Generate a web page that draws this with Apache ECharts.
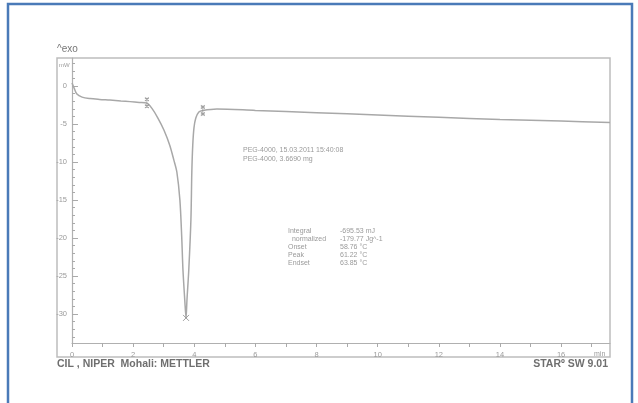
<!DOCTYPE html>
<html><head><meta charset="utf-8">
<script src="https://cdn.jsdelivr.net/npm/echarts@6/dist/echarts.min.js"></script>
<style>html,body{margin:0;padding:0;background:#fff}#c{width:638px;height:403px}</style>
</head><body><div id="c"></div><script>
// DSC curve: time (min) vs heat flow (mW)
const timeMin = [0, 0.07, 0.16, 0.33, 0.59, 0.9, 1.24, 1.6, 1.9, 2.2, 2.45, 2.61, 2.81, 3.01, 3.20, 3.33, 3.43, 3.53, 3.59, 3.63, 3.69, 3.73, 3.76, 3.82, 3.89, 3.92, 3.95, 3.99, 4.05, 4.15, 4.28, 4.74, 6, 8, 10, 12, 14, 16, 17.6];
const heatFlow = [0.4, -0.26, -1.05, -1.45, -1.64, -1.75, -1.84, -1.95, -2.04, -2.14, -2.24, -2.9, -4.2, -5.8, -7.8, -9.7, -11.3, -15.0, -19.9, -24.2, -28.2, -30.5, -28.2, -24.2, -17.6, -11.3, -7.8, -5.5, -4.2, -3.4, -3.2, -3.0, -3.2, -3.5, -3.8, -4.1, -4.4, -4.6, -4.8];
const limitTimes = [2.45, 4.28];
const limitValues = [-2.2, -3.2];
const peakTimes = [3.73];
const peakValues = [-30.5];
const xMajorTicks = [0, 2, 4, 6, 8, 10, 12, 14, 16];
const xMinorTicks = [1, 3, 5, 7, 9, 11, 13, 15, 17];
const yMajorTicks = [0, -5, -10, -15, -20, -25, -30];
const yMinorTicks = [3,2,1,-1,-2,-3,-4,-6,-7,-8,-9,-11,-12,-13,-14,-16,-17,-18,-19,-21,-22,-23,-24,-26,-27,-28,-29,-31,-32,-33];
const sampleLines = ['PEG-4000, 15.03.2011 15:40:08', 'PEG-4000, 3.6690 mg'];
const resultNames = ['Integral', '  normalized', 'Onset', 'Peak', 'Endset'];
const resultValues = ['-695.53 mJ', '-179.77 Jg^-1', '58.76 °C', '61.22 °C', '63.85 °C'];

const chart = echarts.init(document.getElementById('c'), null, {renderer: 'canvas'});
const gray = '#a8a8a8';
const txt = '#9a9a9a';
const font = 'Liberation Sans, Arial, sans-serif';
const curve = timeMin.map((t, i) => [t, heatFlow[i]]);
const limits = limitTimes.map((t, i) => [t, limitValues[i]]);
const peaks = peakTimes.map((t, i) => [t, peakValues[i]]);

const gText = [];
sampleLines.forEach((s, i) => gText.push({type: 'text', left: 243, top: 147 + i * 9, style: {text: s, fill: txt, font: '7px ' + font}}));
resultNames.forEach((s, i) => gText.push({type: 'text', left: 288, top: 228 + i * 7.8, style: {text: s, fill: txt, font: '7px ' + font}}));
resultValues.forEach((s, i) => gText.push({type: 'text', left: 340, top: 228 + i * 7.8, style: {text: s, fill: txt, font: '7px ' + font}}));

const xAxisBase = {type: 'value', min: 0, max: 17.6, splitLine: {show: false}};
const yAxisBase = {type: 'value', min: -33.8, max: 3.7, splitLine: {show: false}};

chart.setOption({
  animation: false,
  backgroundColor: '#fff',
  grid: {left: 72, right: 28, top: 58, bottom: 60},
  xAxis: [
    Object.assign({}, xAxisBase, {
      axisLine: {onZero: false, lineStyle: {color: '#b0b0b0', width: 1.2}},
      axisTick: {show: true, inside: false, length: 4, customValues: xMajorTicks.concat(xMinorTicks), lineStyle: {color: '#aaa'}},
      axisLabel: {customValues: xMajorTicks, color: txt, fontSize: 7.5, margin: 8, fontFamily: font}
    })
  ],
  yAxis: [
    Object.assign({}, yAxisBase, {
      axisLine: {show: true, onZero: false, lineStyle: {color: '#b0b0b0', width: 1.2}},
      axisTick: {show: true, inside: true, length: 6, customValues: yMajorTicks, lineStyle: {color: '#aaa'}},
      axisLabel: {customValues: yMajorTicks, color: txt, fontSize: 7.5, margin: 5, fontFamily: font}
    }),
    Object.assign({}, yAxisBase, {
      position: 'left',
      axisLine: {show: false, onZero: false},
      axisTick: {show: true, inside: true, length: 3, customValues: yMinorTicks, lineStyle: {color: '#aaa'}},
      axisLabel: {show: false}
    })
  ],
  series: [
    {type: 'line', data: curve, smooth: 0.3, showSymbol: false, lineStyle: {color: gray, width: 1.5}, z: 3},
    {type: 'scatter', data: limits, symbol: 'path://M0,0 L4,3 M4,0 L0,3 M2,0 L2,10 M0,7 L4,10 M4,7 L0,10', symbolSize: [4, 10], itemStyle: {color: 'none', borderColor: '#888', borderWidth: 1}, z: 4},
    {type: 'scatter', data: peaks, symbol: 'path://M0,0 L6,6 M6,0 L0,6', symbolSize: 6, itemStyle: {color: 'none', borderColor: '#888', borderWidth: 1}, z: 4}
  ],
  graphic: [
    {type: 'rect', shape: {x: 8, y: 4, width: 624, height: 420}, style: {fill: 'none', stroke: '#4a7ab8', lineWidth: 2.5}, silent: true},
    {type: 'rect', shape: {x: 57, y: 58, width: 553, height: 299}, style: {fill: 'none', stroke: '#bdbdbd', lineWidth: 1.5}, silent: true},
    {type: 'text', left: 57, top: 44, style: {text: '^exo', fill: '#777', font: '10px ' + font}},
    {type: 'text', left: 59, top: 62, style: {text: 'mW', fill: txt, font: '6px ' + font}},
    {type: 'text', left: 594, top: 351, style: {text: 'min', fill: txt, font: '7px ' + font}},
    {type: 'text', left: 57, top: 359, style: {text: 'CIL , NIPER  Mohali: METTLER', fill: '#6f6f6f', font: 'bold 10.5px ' + font}},
    {type: 'text', right: 30, top: 359, style: {text: 'STAR\u00ba SW 9.01', fill: '#6f6f6f', font: 'bold 10.5px ' + font}}
  ].concat(gText)
});
</script></body></html>
